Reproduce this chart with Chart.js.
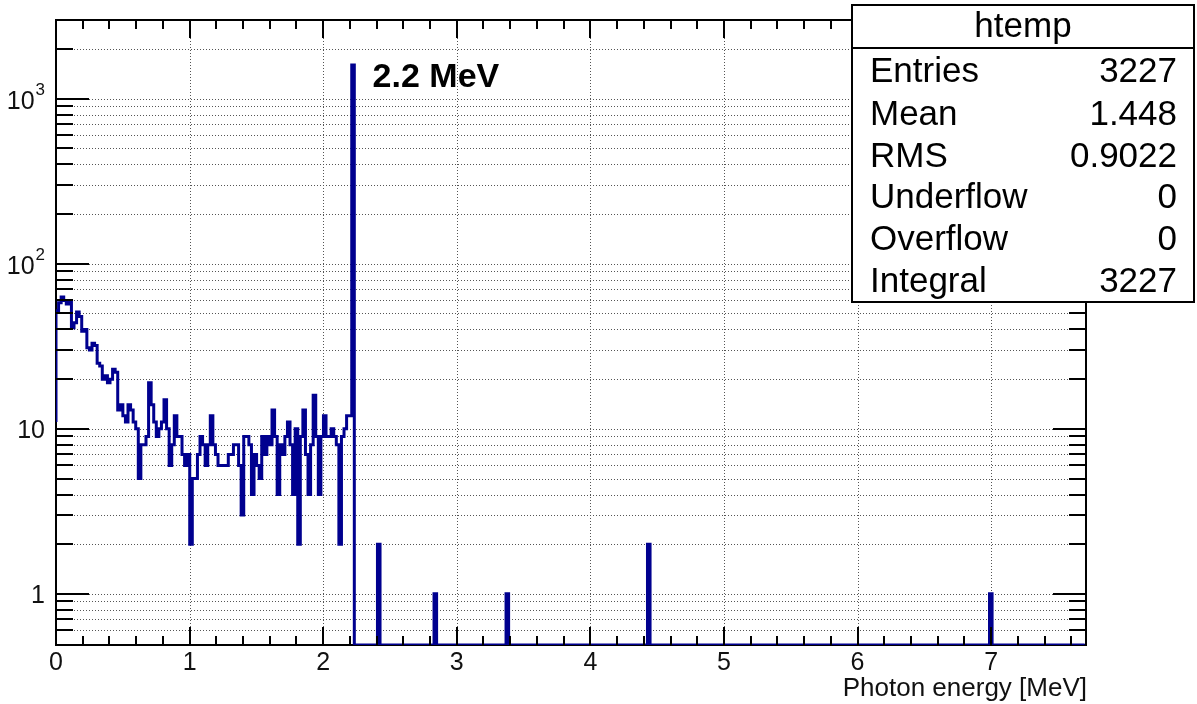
<!DOCTYPE html>
<html>
<head>
<meta charset="utf-8">
<title>htemp - Photon energy</title>
<script src="https://cdn.jsdelivr.net/npm/chart.js@4/dist/chart.umd.min.js"></script>
<style>
    html, body { margin: 0; padding: 0; background: #fff; }
    #wrap { width: 1197px; height: 704px; position: relative; }
</style>
</head>
<body>
<div id="wrap"><canvas id="grafico" width="1197" height="704"></canvas></div>
<script>
/* =========================================
   DATOS
   ========================================= */
const binWidth = 0.01925;         // MeV por bin
const nBins = 400;                // 0 .. 7.7 MeV
const startLevel = 11;            // donde empieza el contorno en x = 0

// cuentas de los bins 0..115 (el 115 es el pico de 2.2 MeV)
const lowCounts = [
    52, 58, 63, 60, 57, 59, 41, 44, 51, 48,
    39, 40, 31, 30, 33, 32, 25, 24, 20, 21,
    19, 20, 23, 22, 13, 14, 12, 11, 14, 13,
    11, 10, 5, 8, 8, 9, 19, 14, 11, 9,
    10, 11, 15, 10, 6, 8, 12, 9, 9, 7,
    6, 7, 2, 5, 5, 7, 9, 8, 6, 8,
    12, 8, 7, 6, 6, 6, 6, 7, 7, 8,
    8, 6, 3, 9, 9, 8, 4, 7, 6, 5,
    9, 7, 9, 8, 13, 9, 4, 8, 7, 9,
    11, 8, 4, 10, 2, 9, 13, 7, 4, 8,
    16, 9, 4, 9, 12, 9, 9, 10, 9, 8,
    2, 9, 10, 12, 12, 1600
];
// picos aislados por encima de 2.2 MeV
const spikeBins = [125, 147, 175, 230, 363];
const spikeCounts = [2, 1, 1, 2, 1];

const xTicks = [0, 1, 2, 3, 4, 5, 6, 7];
const xTickLabels = ['0', '1', '2', '3', '4', '5', '6', '7'];
const yTicks = [1, 10, 100, 1000];
const yTickBase = ['1', '10', '10', '10'];
const yTickExp = ['', '', '2', '3'];

const statsTitle = 'htemp';
const statsLabels = ['Entries', 'Mean', 'RMS', 'Underflow', 'Overflow', 'Integral'];
const statsValues = ['3227', '1.448', '0.9022', '0', '0', '3227'];
const xTitle = 'Photon energy [MeV]';
const peakLabel = '2.2 MeV';

/* =========================================
   CONFIGURACION
   ========================================= */
const xMin = 0, xMax = 7.71;
const yMin = 0.49, yMax = 3000;
const FONT = '"Liberation Sans", Arial, Helvetica, sans-serif';
const peakLabelAt = { x: 2.37, y: 1180 };

const counts = new Array(nBins).fill(0);
lowCounts.forEach((c, i) => counts[i] = c);
spikeBins.forEach((b, k) => counts[b] = spikeCounts[k]);

// contorno del histograma: un punto en el borde izquierdo de cada bin
const puntos = [{ x: 0, y: startLevel }];
counts.forEach((c, i) => puntos.push({ x: i * binWidth, y: c > 0 ? c : yMin }));
puntos.push({ x: nBins * binWidth, y: counts[nBins - 1] > 0 ? counts[nBins - 1] : yMin });

// lineas de rejilla / marcas menores del eje log
const yMinor = [];
[0.1, 1, 10, 100, 1000].forEach(d => {
    for (let m = 1; m <= 9; m++) {
        const v = +(m * d).toPrecision(3);
        if (v >= 0.55 && v <= yMax) yMinor.push(v);
    }
});

/* =========================================
   PLUGIN ESTILO ROOT
   ========================================= */
const estiloRoot = {
    id: 'estiloRoot',
    beforeDatasetsDraw(chart) {
        const { ctx, chartArea: a, scales: { x, y } } = chart;
        ctx.save();
        // rejilla punteada
        ctx.strokeStyle = '#555';
        ctx.lineWidth = 1;
        ctx.setLineDash([1, 2]);
        ctx.beginPath();
        xTicks.slice(1).forEach(v => {
            const px = Math.round(x.getPixelForValue(v)) + 0.5;
            ctx.moveTo(px, a.top);
            ctx.lineTo(px, a.bottom);
        });
        yMinor.forEach(v => {
            const py = Math.round(y.getPixelForValue(v)) + 0.5;
            ctx.moveTo(a.left, py);
            ctx.lineTo(a.right, py);
        });
        ctx.stroke();
        ctx.setLineDash([]);
        // marco
        ctx.strokeStyle = '#000';
        ctx.lineWidth = 2;
        ctx.strokeRect(a.left, a.top, a.right - a.left, a.bottom - a.top);
        ctx.restore();
    },
    afterDatasetsDraw(chart) {
        const { ctx, chartArea: a, scales: { x, y } } = chart;
        ctx.save();
        ctx.strokeStyle = '#000';
        ctx.lineWidth = 2;
        ctx.beginPath();
        // marcas eje X (abajo y arriba)
        for (let k = 0; k * 0.2 <= xMax + 1e-9; k++) {
            const v = k * 0.2;
            const px = Math.round(x.getPixelForValue(v));
            const len = (k % 5 === 0) ? 18 : 9;
            ctx.moveTo(px, a.bottom); ctx.lineTo(px, a.bottom - len);
            ctx.moveTo(px, a.top); ctx.lineTo(px, a.top + len);
        }
        // marcas eje Y (izquierda y derecha)
        yMinor.forEach(v => {
            const py = Math.round(y.getPixelForValue(v));
            const len = yTicks.includes(v) ? 33 : 17;
            ctx.moveTo(a.left, py); ctx.lineTo(a.left + len, py);
            ctx.moveTo(a.right, py); ctx.lineTo(a.right - len, py);
        });
        ctx.stroke();

        // etiquetas eje X
        ctx.fillStyle = '#111';
        ctx.font = '25px ' + FONT;
        ctx.textAlign = 'center';
        ctx.textBaseline = 'alphabetic';
        xTicks.forEach((v, i) => ctx.fillText(xTickLabels[i], x.getPixelForValue(v), 670));

        // etiquetas eje Y (con exponente)
        yTicks.forEach((v, i) => {
            const py = y.getPixelForValue(v);
            const right = 45;
            ctx.textAlign = 'right';
            if (yTickExp[i]) {
                ctx.font = '17px ' + FONT;
                const w = ctx.measureText(yTickExp[i]).width;
                ctx.fillText(yTickExp[i], right, py - 4);
                ctx.font = '25px ' + FONT;
                ctx.fillText(yTickBase[i], right - w - 1, py + 10);
            } else {
                ctx.font = '25px ' + FONT;
                ctx.fillText(yTickBase[i], right, py + 9);
            }
        });

        // titulo eje X
        ctx.font = '26px ' + FONT;
        ctx.textAlign = 'right';
        ctx.fillText(xTitle, a.right + 1, 696);

        // etiqueta del pico
        ctx.font = 'bold 34px ' + FONT;
        ctx.textAlign = 'left';
        ctx.fillStyle = '#000';
        ctx.fillText(peakLabel, x.getPixelForValue(peakLabelAt.x), y.getPixelForValue(peakLabelAt.y));
        ctx.restore();
    },
    afterDraw(chart) {
        // caja de estadisticas
        const { ctx } = chart;
        const bx = 852, by = 5, bw = 342, bh = 297, hh = 43;
        ctx.save();
        ctx.fillStyle = '#fff';
        ctx.fillRect(bx, by, bw, bh);
        ctx.strokeStyle = '#000';
        ctx.lineWidth = 2;
        ctx.strokeRect(bx, by, bw, bh);
        ctx.beginPath();
        ctx.moveTo(bx, by + hh);
        ctx.lineTo(bx + bw, by + hh);
        ctx.stroke();
        ctx.fillStyle = '#000';
        ctx.font = '35px ' + FONT;
        ctx.textAlign = 'center';
        ctx.fillText(statsTitle, bx + bw / 2, 37);
        const baselines = [82, 125, 167, 208, 250, 292];
        statsLabels.forEach((lab, i) => {
            ctx.textAlign = 'left';
            ctx.fillText(lab, 870, baselines[i]);
            ctx.textAlign = 'right';
            ctx.fillText(statsValues[i], 1177, baselines[i]);
        });
        ctx.restore();
    }
};

/* =========================================
   GRAFICO
   ========================================= */
new Chart(document.getElementById('grafico').getContext('2d'), {
    type: 'line',
    data: {
        datasets: [{
            label: statsTitle,
            data: puntos,
            stepped: true,
            borderColor: '#00008f',
            borderWidth: 3,
            pointRadius: 0,
            fill: false,
            tension: 0
        }]
    },
    options: {
        responsive: false,
        animation: false,
        devicePixelRatio: 1,
        layout: { padding: { left: 0, top: 20, right: 111, bottom: 0 } },
        plugins: { legend: { display: false }, tooltip: { enabled: false } },
        scales: {
            x: {
                type: 'linear', min: xMin, max: xMax,
                ticks: { display: false }, grid: { display: false }, border: { display: false },
                afterFit: s => { s.height = 59; }
            },
            y: {
                type: 'logarithmic', min: yMin, max: yMax,
                ticks: { display: false }, grid: { display: false }, border: { display: false },
                afterFit: s => { s.width = 56; }
            }
        }
    },
    plugins: [estiloRoot]
});
</script>
</body>
</html>
